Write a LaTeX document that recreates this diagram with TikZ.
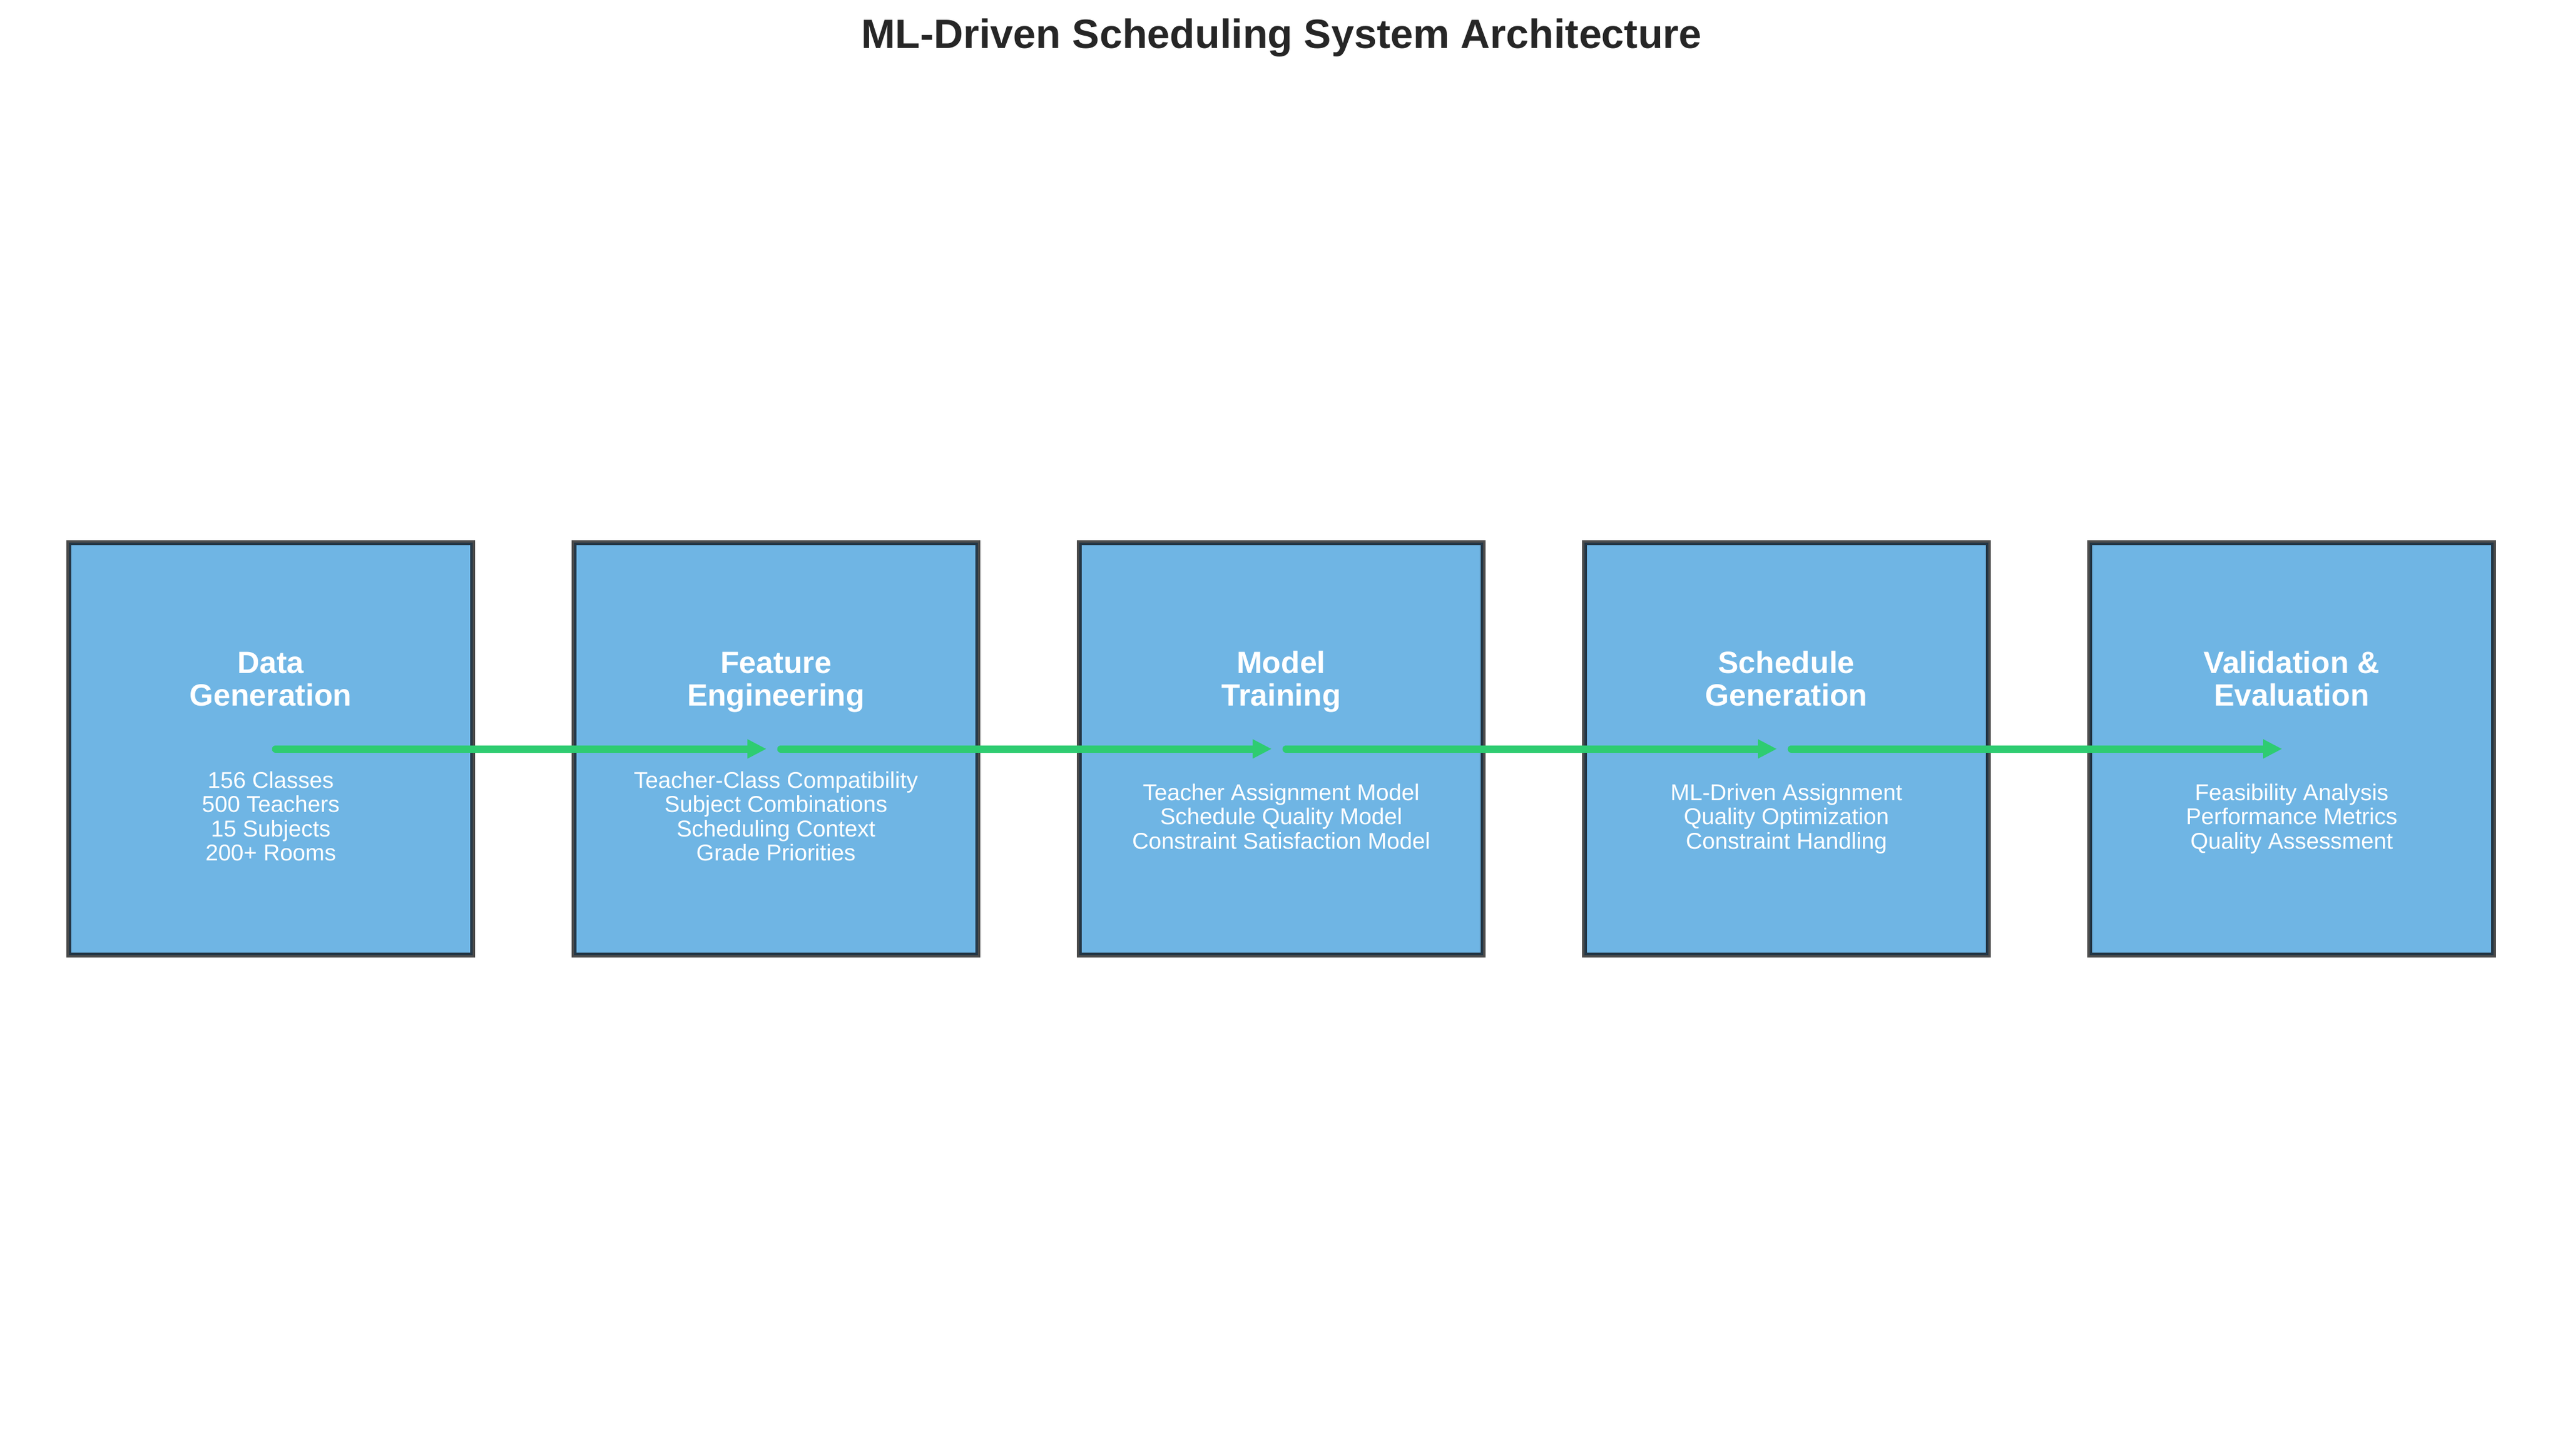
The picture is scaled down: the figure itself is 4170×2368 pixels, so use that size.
\documentclass[tikz,border=0pt]{standalone}
\usepackage{fontspec}
\setmainfont{Liberation Sans}
\usetikzlibrary{arrows.meta}
\definecolor{boxfill}{HTML}{6FB5E4}
\definecolor{edgedark}{HTML}{243746}
\definecolor{edgegray}{HTML}{4B4B4B}
\definecolor{flowgreen}{HTML}{2ECC71}
\definecolor{titlecol}{HTML}{262626}
\tikzset{
  stagebox/.style={rectangle, inner sep=0pt, minimum width=156.72pt, minimum height=160.08pt,
    fill=boxfill, draw=edgedark, line width=0.96pt,
    preaction={draw=edgegray, line width=2.88pt}},
  stagetitle/.style={anchor=base, align=center, text=white, inner sep=0pt,
    font=\fontsize{12pt}{12.72pt}\selectfont\bfseries},
  stagebody/.style={anchor=base, align=center, text=white, inner sep=0pt,
    font=\fontsize{8.95pt}{9.48pt}\selectfont},
  flow/.style={draw=flowgreen, line width=2.88pt, line cap=round,
    -{Triangle[length=7.4pt, width=7pt]}},
}
\begin{document}
\begin{tikzpicture}[x=0.24pt, y=-0.24pt]
\useasboundingbox (0,0) rectangle (4170,2368);
\node[anchor=base, inner sep=0pt, text=titlecol, font=\fontsize{15.96pt}{19pt}\selectfont\bfseries] (title) at (2085,78) {ML-Driven Scheduling System Architecture};

\node[stagebox] (b1) at (440.5,1218.5) {};
\node[stagebox] (b2) at (1262.5,1218.5) {};
\node[stagebox] (b3) at (2084.5,1218.5) {};
\node[stagebox] (b4) at (2906.5,1218.5) {};
\node[stagebox] (b5) at (3728.5,1218.5) {};

\node[stagetitle] (t1) at (440.5,1148) {Data\\Generation};
\node[stagetitle] (t2) at (1262.5,1148) {Feature\\Engineering};
\node[stagetitle] (t3) at (2084.5,1148) {Model\\Training};
\node[stagetitle] (t4) at (2906.5,1148) {Schedule\\Generation};
\node[stagetitle] (t5) at (3728.5,1148) {Validation \&\\Evaluation};

\node[stagebody] (d1) at (440.5,1400.75) {156 Classes\\500 Teachers\\15 Subjects\\200+ Rooms};
\node[stagebody] (d2) at (1262.5,1400.75) {Teacher-Class Compatibility\\Subject Combinations\\Scheduling Context\\Grade Priorities};
\node[stagebody] (d3) at (2084.5,1381) {Teacher Assignment Model\\Schedule Quality Model\\Constraint Satisfaction Model};
\node[stagebody] (d4) at (2906.5,1381) {ML-Driven Assignment\\Quality Optimization\\Constraint Handling};
\node[stagebody] (d5) at (3728.5,1381) {Feasibility Analysis\\Performance Metrics\\Quality Assessment};

\draw[flow] ([xshift=1.92pt]b1.center) -- ([xshift=-3.72pt]b2.center);
\draw[flow] ([xshift=1.92pt]b2.center) -- ([xshift=-3.72pt]b3.center);
\draw[flow] ([xshift=1.92pt]b3.center) -- ([xshift=-3.72pt]b4.center);
\draw[flow] ([xshift=1.92pt]b4.center) -- ([xshift=-3.72pt]b5.center);
\end{tikzpicture}
\end{document}
